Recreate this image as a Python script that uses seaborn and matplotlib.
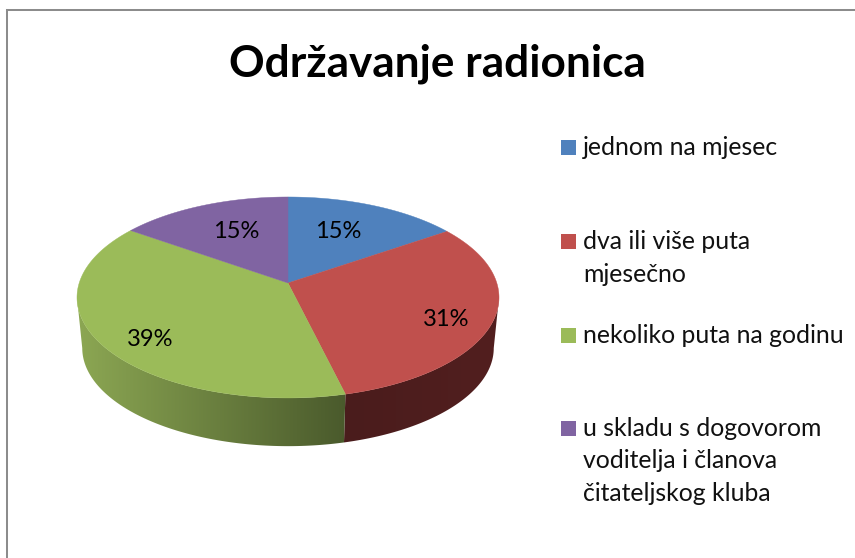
import numpy as np
import matplotlib
matplotlib.use("Agg")
import matplotlib.pyplot as plt
from matplotlib.colors import LinearSegmentedColormap
from matplotlib.patches import Polygon, Rectangle
import seaborn as sns

# Chart data
title = "Održavanje radionica"
categories = [
    "jednom na mjesec",
    "dva ili više puta\nmjesečno",
    "nekoliko puta na godinu",
    "u skladu s dogovorom\nvoditelja i članova\nčitateljskog kluba",
]
shares = [15.4, 30.8, 38.6, 15.2]

# Office style colours for the top of the pie and for the side wall
top_colors = ["#4f81bd", "#c0504d", "#9bbb59", "#8064a2"]
side_colors = [None, ("#521f1f", "#4a1c1c"), ("#4a5a2c", "#8ca753"), None]

W, H = 855, 558

sns.set_theme(style="white")
plt.rcParams["font.family"] = ["Lato", "DejaVu Sans"]


# Perspective view of the pie, theta is clockwise from 12 o'clock
def top_edge(theta):
    u, v = np.sin(np.radians(theta)), np.cos(np.radians(theta))
    d = 1 + 0.144 * v
    return 288 + 208.8 * u / d, 283 - 98.4 * v / d


def bottom_edge(theta):
    u, v = np.sin(np.radians(theta)), np.cos(np.radians(theta))
    d = 1 + 0.144 * v
    return 288 + 203.6 * u / d, 334 - 96 * v / d


fig = plt.figure(figsize=(W / 100, H / 100), dpi=100)
ax = fig.add_axes([7 / W, 0, (W - 7) / W, (H - 10) / H])

# Cumulative angles of the slices
edges = np.cumsum([0] + shares) / sum(shares) * 360

# Side wall, only the part between the two silhouette points can be seen
for i, colors in enumerate(side_colors):
    if colors is None:
        continue
    theta = np.linspace(max(edges[i], 98.3), min(edges[i + 1], 261.7), 200)
    tx, ty = top_edge(theta)
    bx, by = bottom_edge(theta)
    xs = np.r_[tx, bx[::-1]]
    ys = np.r_[ty, by[::-1]]
    poly = Polygon(np.c_[xs, ys], closed=True, transform=ax.transData, fc="none", ec="none")
    ax.add_patch(poly)
    cmap = LinearSegmentedColormap.from_list("side", colors)
    grad = np.linspace(1, 0, 256).reshape(1, -1)
    img = ax.imshow(grad, cmap=cmap, extent=(xs.min(), xs.max(), ys.max() + 1, ys.min() - 1), aspect="auto", zorder=1)
    img.set_clip_path(poly)

# Top of the pie
cx, cy = top_edge(0)[0], 283
for i, color in enumerate(top_colors):
    theta = np.linspace(edges[i], edges[i + 1], 200)
    x, y = top_edge(theta)
    ax.fill(np.r_[cx, x], np.r_[cy, y], color=color, lw=0.3, zorder=2)

# Percent labels
label_pos = [(338, 232), (446, 320), (150, 339), (236, 232)]
for share, (x, y) in zip(shares, label_pos):
    ax.text(x, y, f"{share:.0f}%", ha="center", va="center", fontsize=17, color="black", zorder=3)

# Legend
square_y = [140, 234, 328, 421]
for cat, color, y in zip(categories, top_colors, square_y):
    ax.add_patch(Rectangle((561, y), 15, 15, fc=color, ec="none"))
    for n, line in enumerate(cat.split("\n")):
        ax.text(583, y + 15 + n * 32.5, line, ha="left", va="baseline", fontsize=17.8, color="#111111")

ax.text(437, 77, title, ha="center", va="baseline", fontsize=31.8, fontweight="bold", color="black")

ax.set_xlim(7, W)
ax.set_ylim(H, 10)
ax.set_xticks([])
ax.set_yticks([])
sns.despine(ax=ax, top=False, left=False, right=True, bottom=True)
for side in ["left", "top"]:
    ax.spines[side].set_color("#8c8c8c")
    ax.spines[side].set_linewidth(1.45)

fig.savefig("out.png", dpi=100)
